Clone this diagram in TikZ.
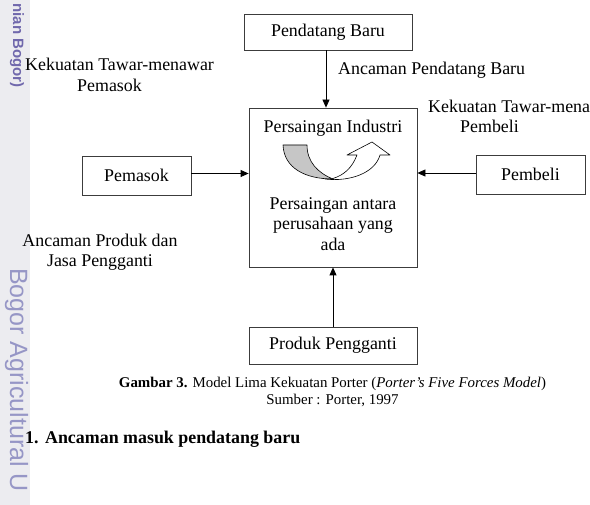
\documentclass[tikz,border=0pt]{standalone}
\usepackage{fontspec}
\setmainfont{Liberation Serif}
\setsansfont{Liberation Sans}
\usetikzlibrary{positioning,arrows.meta}
\definecolor{BoxLine}{RGB}{60,60,60}
\definecolor{WmBand}{RGB}{236,236,240}
\definecolor{WmText}{RGB}{150,150,198}
\definecolor{WmDark}{RGB}{112,104,172}
\definecolor{FlowGray}{RGB}{198,198,198}
\tikzset{
  box/.style={draw=BoxLine,line width=0.8pt,fill=white,inner sep=0pt,font=\fontsize{17.9}{20.6}\selectfont},
  lbl/.style={inner sep=0pt,font=\fontsize{17.9}{20.6}\selectfont},
  captxt/.style={inner sep=0pt,font=\fontsize{14.9}{17}\selectfont},
  arr/.style={draw=black,line width=0.8pt,-{Triangle[length=8pt,width=7pt]}},
  flow/.style={draw=black,line width=0.6pt,line join=round},
}
\tikzset{wm/.style={rotate=-90,inner sep=0pt}}

\begin{document}
\begin{tikzpicture}[x=1pt,y=-1pt]
\useasboundingbox (0,0) rectangle (590,505);
% watermark strip
\fill[WmBand] (0,0) rectangle (30,505);
\node[wm,anchor=base east,text=WmDark,font=\sffamily\bfseries\fontsize{15}{17}\selectfont](wmtop) at (13,88){nian Bogor)};
\node[wm,anchor=base west,text=WmText,font=\sffamily\fontsize{25}{27}\selectfont](wmbig) at (10,268){Bogor Agricultural U};
% forces
\node[box,minimum width=168pt,minimum height=159pt](ind) at (333,187.5){};
\node[box,minimum width=168pt,minimum height=36pt](pb) at (328,32){Pendatang Baru};
\node[box,minimum width=109pt,minimum height=39pt](pm) at (136.5,175.5){Pemasok};
\node[box,minimum width=109pt,minimum height=39pt](pe) at (530.5,174.5){Pembeli};
\node[box,minimum width=168pt,minimum height=37pt](pp) at (333,345.5){Produk Pengganti};
\node[lbl,anchor=base](indt) at (333,132.3){Persaingan Industri};
\node[lbl,anchor=base,align=center](indb) at (333,250.5){Persaingan antara\\perusahaan yang\\ada};
\draw[arr] ([xshift=-2pt]pb.south) -- ([xshift=-2pt]pb.south |- ind.north);
\draw[arr] ([yshift=2pt]pm.east) -- ([yshift=2pt]pm.east -| ind.west);
\draw[arr] ([yshift=1.5pt]pe.west) -- ([yshift=1.5pt]pe.west -| ind.east);
\draw[arr] (pp.north) -- (ind.south);
% curved arrow
\draw[flow,fill=FlowGray] (283,145) .. controls (284,168) and (305,179) .. (333,179) .. controls (318,173) and (307,162) .. (307,145) -- cycle;
\draw[flow,fill=white] (325,179) .. controls (350,182) and (375,173) .. (380,155) -- (390,155) -- (372,142) -- (347,155) -- (357,155) .. controls (352,168) and (344,175) .. (333,178.5) .. controls (330,179) .. cycle;
% labels
\node[lbl,anchor=base west,align=left](kpm) at (25,91.6){Kekuatan Tawar-menawar\\\hspace*{52pt}Pemasok};
\node[lbl,anchor=base west](apb) at (338,74.5){Ancaman Pendatang Baru};
\node[lbl,anchor=base west,align=left](kpe) at (428,132.7){Kekuatan Tawar-mena\\\hspace*{32pt}Pembeli};
\node[lbl,anchor=base,align=center](apj) at (100,266.7){Ancaman Produk dan\\Jasa Pengganti};
% caption
\node[captxt,anchor=base,align=center](capt) at (332.5,405){\textbf{Gambar 3.} Model Lima Kekuatan Porter (\textit{Porter's Five Forces Model})\\Sumber : Porter, 1997};
\node[lbl,anchor=base west,font=\bfseries\fontsize{17.9}{20.6}\selectfont](head) at (25,444){1.\hspace{6.5pt}Ancaman masuk pendatang baru};
\end{tikzpicture}
\end{document}
